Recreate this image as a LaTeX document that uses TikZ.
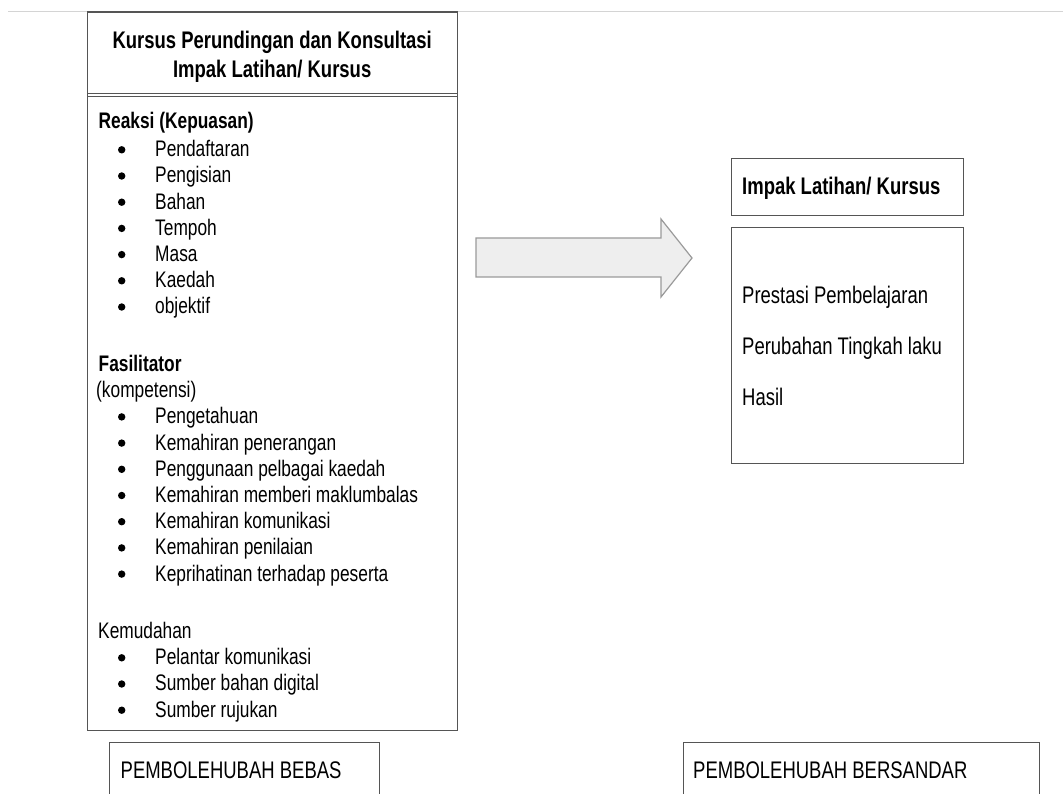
\documentclass[tikz,border=0pt]{standalone}
\usepackage{fontspec}
\setmainfont{Liberation Sans}[FakeStretch=0.77]
\definecolor{boxgray}{HTML}{555555}
\definecolor{arrowfill}{HTML}{EEEEEE}
\definecolor{arrowline}{HTML}{9A9A9A}
\definecolor{topgray}{HTML}{D4D4D4}
\newcommand\itemsize{\fontsize{22.5}{26}\selectfont}
\newcommand\bigsize{\fontsize{24}{28}\selectfont}
\begin{document}
\begin{tikzpicture}[x=1pt,y=-1pt,
  box/.style={draw=boxgray, line width=1.4pt, rectangle, inner sep=0pt, anchor=north west},
  itm/.style={anchor=base west, inner sep=0pt, font=\itemsize},
  itmb/.style={anchor=base west, inner sep=0pt, font=\itemsize\bfseries},
  big/.style={anchor=base west, inner sep=0pt, font=\bigsize},
  bigb/.style={anchor=base west, inner sep=0pt, font=\bigsize\bfseries},
  hdr/.style={anchor=base, inner sep=0pt, font=\bigsize\bfseries},
  bul/.style={circle, fill=black, inner sep=0pt, minimum size=7.4pt},
  blockarrow/.style={fill=arrowfill, draw=arrowline, line width=1.2pt, line join=miter}
]
\useasboundingbox (0,0) rectangle (1063,794);
% faint top rule
\draw[topgray, line width=1.6pt] (8,11.5) -- (1063,11.5);

% left box
\node[box, minimum width=369.5pt, minimum height=718pt] (leftbox) at (87,11.5) {};
\draw[boxgray, line width=1.1pt] (87,93.6) -- (456.5,93.6);
\draw[boxgray, line width=1.1pt] (87,96.6) -- (456.5,96.6);
\node[hdr] (h1) at (272.2,48.5) {Kursus Perundingan dan Konsultasi};
\node[hdr] (h2) at (272.2,77.3) {Impak Latihan/ Kursus};

\node[itmb] (reaksi) at (98.5,128.3) {Reaksi (Kepuasan)};
\foreach \t [count=\i from 0] in {Pendaftaran, Pengisian, Bahan, Tempoh, Masa, Kaedah, objektif} {
  \pgfmathsetmacro\yb{156.7+26.2*\i}
  \node[itm] (ra\i) at (155,\yb) {\t};
  \node[bul] (rb\i) at (121.7,\yb-6.9) {};
}
\node[itmb] (fas) at (98.5,371.4) {Fasilitator};
\node[itm] (komp) at (96,397.6) {(kompetensi)};
\foreach \t [count=\i from 0] in {Pengetahuan, Kemahiran penerangan, Penggunaan pelbagai kaedah, Kemahiran memberi maklumbalas, Kemahiran komunikasi, Kemahiran penilaian, Keprihatinan terhadap peserta} {
  \pgfmathsetmacro\yb{423.8+26.2*\i}
  \node[itm] (fa\i) at (155,\yb) {\t};
  \node[bul] (fb\i) at (121.7,\yb-6.9) {};
}
\node[itm] (kem) at (98,638.5) {Kemudahan};
\foreach \t [count=\i from 0] in {Pelantar komunikasi, Sumber bahan digital, Sumber rujukan} {
  \pgfmathsetmacro\yb{664.7+26.2*\i}
  \node[itm] (ka\i) at (155,\yb) {\t};
  \node[bul] (kb\i) at (121.7,\yb-6.9) {};
}

% block arrow
\draw[blockarrow] (476,238) -- (661,238) -- (661,219) -- (692,258) -- (661,297) -- (661,277) -- (476,277) -- cycle;

% right boxes
\node[box, minimum width=232pt, minimum height=57pt] (rtitle) at (731,158) {};
\node[bigb] (rtt) at (742,195) {Impak Latihan/ Kursus};
\node[box, minimum width=232pt, minimum height=236pt] (rcontent) at (731,227) {};
\node[big] (r1) at (742,303.3) {Prestasi Pembelajaran};
\node[big] (r2) at (742,355) {Perubahan Tingkah laku};
\node[big] (r3) at (742,405) {Hasil};

% bottom boxes
\node[box, minimum width=270pt, minimum height=80pt] (bbebas) at (109,742) {};
\node[big] (tbebas) at (120.5,778.3) {PEMBOLEHUBAH BEBAS};
\node[box, minimum width=356pt, minimum height=80pt] (bsandar) at (683,742) {};
\node[big] (tsandar) at (693,778.3) {PEMBOLEHUBAH BERSANDAR};
\end{tikzpicture}
\end{document}
